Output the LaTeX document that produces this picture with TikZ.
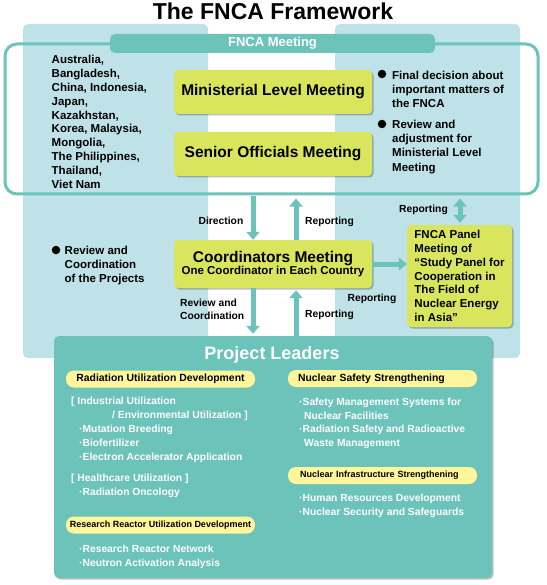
\documentclass[tikz,border=0pt]{standalone}
\usepackage{fontspec}
\setmainfont{Liberation Sans}
\usetikzlibrary{arrows.meta,shadows}
\definecolor{panelblue}{HTML}{BEE2E8}
\definecolor{fteal}{HTML}{6CC3B9}
\definecolor{boxgreen}{HTML}{DAE55E}
\definecolor{pillyellow}{HTML}{FFF59A}
\begin{document}
\begin{tikzpicture}[x=1pt,y=-1pt,
  mbox/.style={fill=boxgreen, rounded corners=4pt, inner sep=0pt,
    drop shadow={shadow xshift=1.5pt, shadow yshift=-1.5pt, opacity=0.25, fill=black}},
  arr/.style={line width=5pt, draw=fteal, -{Triangle[width=13pt,length=8pt]}},
  biarr/.style={line width=5pt, draw=fteal, {Triangle[width=13pt,length=8pt]}-{Triangle[width=13pt,length=8pt]}},
  lab/.style={font=\fontsize{10.3}{13}\selectfont\bfseries, inner sep=0pt, anchor=base},
  btxt/.style={font=\fontsize{11.5}{13.9}\selectfont\bfseries, align=left, anchor=north west, inner sep=0pt},
  wtxt/.style={font=\fontsize{10.3}{14}\selectfont\bfseries, text=white, align=left, anchor=north west, inner sep=0pt},
  pill/.style={fill=pillyellow, rounded corners=8pt, minimum width=189pt, minimum height=17pt, inner sep=0pt},
  bdot/.style={circle, fill=black, minimum size=8.5pt, inner sep=0pt},
  panel/.style={fill=panelblue, rounded corners=5pt}
]
\useasboundingbox (0,0) rectangle (546,585);

% background panels
\fill[panel] (23,24) rectangle (208,358);
\fill[panel] (335,24) rectangle (520,358);

% title
\node[font=\fontsize{23}{26}\selectfont\bfseries, inner sep=0pt, anchor=base] (title) at (273,20) {The FNCA Framework};

% FNCA meeting outline
\node[draw=fteal, line width=3pt, rounded corners=12pt, minimum width=533pt, minimum height=150pt, inner sep=0pt] (meet) at (271.5,119) {};
\node[fill=fteal, rounded corners=5pt, minimum width=325pt, minimum height=19pt, inner sep=0pt,
  text=white, font=\fontsize{13}{15}\selectfont\bfseries] (mhead) at (272.5,43.5) {FNCA Meeting};

% country list
\node[btxt] (countries) at (51.5,54.9) {Australia,\\Bangladesh,\\China, Indonesia,\\Japan,\\Kazakhstan,\\Korea, Malaysia,\\Mongolia,\\The Philippines,\\Thailand,\\Viet Nam};

% main boxes
\node[mbox, minimum width=198pt, minimum height=44pt, font=\fontsize{15.5}{18}\selectfont\bfseries] (minist) at (273,92) {Ministerial Level Meeting};
\node[mbox, minimum width=198pt, minimum height=44pt, font=\fontsize{15.5}{18}\selectfont\bfseries] (senior) at (273,154) {Senior Officials Meeting};

% right bullets
\node[bdot] (d1) at (382,74) {};
\node[btxt, font=\fontsize{11.5}{14.2}\selectfont\bfseries] (t1) at (392,70.9) {Final decision about\\important matters of\\the FNCA};
\node[bdot] (d2) at (382,124) {};
\node[btxt, font=\fontsize{11.5}{14.2}\selectfont\bfseries] (t2) at (392,119.9) {Review and\\adjustment for\\Ministerial Level\\Meeting};

% left bullet
\node[bdot] (d3) at (56,250) {};
\node[btxt, font=\fontsize{11.5}{14}\selectfont\bfseries] (t3) at (64.5,245.9) {Review and\\Coordination\\of the Projects};

% coordinators
\node[mbox, minimum width=198pt, minimum height=48pt, align=center, font=\bfseries] (coord) at (273,264)
  {\fontsize{15.5}{18}\selectfont Coordinators Meeting\\\fontsize{11.5}{14.6}\selectfont One Coordinator in Each Country};

% FNCA panel
\node[mbox, minimum width=105pt, minimum height=102pt, align=left, font=\fontsize{11.5}{13.8}\selectfont\bfseries] (fpanel) at (459.5,276)
  {FNCA Panel\\Meeting of\\“Study Panel for\\Cooperation in\\The Field of\\Nuclear Energy\\in Asia”};

% project leaders
\node[fill=fteal, rounded corners=5pt, minimum width=438pt, minimum height=242pt, inner sep=0pt,
  drop shadow={shadow xshift=1.5pt, shadow yshift=-1.5pt, opacity=0.25, fill=black}] (pl) at (273,457) {};
\node[font=\fontsize{18}{20}\selectfont\bfseries, text=white, inner sep=0pt, anchor=base] (pltitle) at (272,359.5) {Project Leaders};

% arrows
\draw[arr] (253,0 |- meet.south) -- (253,0 |- coord.north);
\draw[arr, shorten >=3pt] (296,0 |- coord.north) -- (296,0 |- meet.south);
\draw[arr, shorten >=2pt] (253,0 |- coord.south) -- (253,0 |- pl.north);
\draw[arr, shorten >=2pt] (296,0 |- pl.north) -- (296,0 |- coord.south);
\draw[arr] (coord.east) -- (coord.east -| fpanel.west);
\draw[biarr, shorten <=3pt, shorten >=2pt] (460,0 |- meet.south) -- (460,0 |- fpanel.north);

% labels
\node[lab] (ldir) at (221,224.7) {Direction};
\node[lab] (lrep1) at (329.5,224.7) {Reporting};
\node[lab] (lrep2) at (329.5,317.7) {Reporting};
\node[lab] (lrep3) at (372,301.7) {Reporting};
\node[lab] (lrep4) at (423.5,212.7) {Reporting};
\node[lab, anchor=north west, align=left, font=\fontsize{10.3}{13}\selectfont\bfseries] (lrev) at (180,299.3) {Review and\\Coordination};

% pills
\node[pill, font=\fontsize{10.4}{12}\selectfont\bfseries] (p1) at (160.5,379) {Radiation Utilization Development};
\node[pill, font=\fontsize{9}{11}\selectfont\bfseries] (p2) at (160.5,525) {Research Reactor Utilization Development};
\node[pill, inner xsep=10pt, text width=169pt, align=left, font=\fontsize{10.4}{12}\selectfont\bfseries] (p3) at (382.5,378.5) {Nuclear Safety Strengthening};
\node[pill, inner xsep=12pt, text width=165pt, align=left, font=\fontsize{9}{11}\selectfont\bfseries] (p4) at (382.5,475.5) {Nuclear Infrastructure Strengthening};

% white items
\node[wtxt] (g1) at (71,397.3) {[ Industrial Utilization\\\hspace*{41pt}/ Environmental Utilization ]\\\hspace*{8pt}·Mutation Breeding\\\hspace*{8pt}·Biofertilizer\\\hspace*{8pt}·Electron Accelerator Application};
\node[wtxt] (g2) at (71,474.3) {[ Healthcare Utilization ]\\\hspace*{8pt}·Radiation Oncology};
\node[wtxt] (g3) at (79,545.3) {·Research Reactor Network\\·Neutron Activation Analysis};
\node[wtxt, font=\fontsize{10.3}{13.4}\selectfont\bfseries] (g4) at (299,398.3) {·Safety Management Systems for\\\hspace*{5pt}Nuclear Facilities\\·Radiation Safety and Radioactive\\\hspace*{5pt}Waste Management};
\node[wtxt] (g5) at (299,494.3) {·Human Resources Development\\·Nuclear Security and Safeguards};
\end{tikzpicture}
\end{document}
